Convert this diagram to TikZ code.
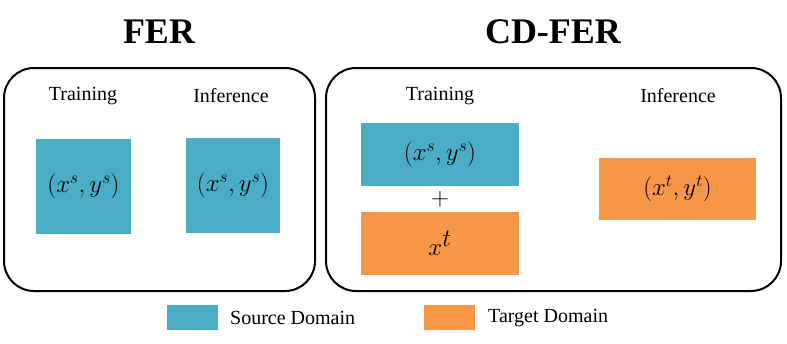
\documentclass[tikz,border=0pt]{standalone}
\usepackage{fontspec}
\setmainfont{Liberation Serif}
\begin{document}
\begin{tikzpicture}[x=1pt,y=-1pt,
  src/.style={fill=srcblue,draw=none,inner sep=0pt},
  tgt/.style={fill=tgtorange,draw=none,inner sep=0pt},
  frame/.style={draw=black,line width=2pt,rounded corners=30pt},
  lbl/.style={font=\fontsize{20}{24}\selectfont},
  ttl/.style={font=\fontsize{36}{40}\selectfont\bfseries},
  mth/.style={font=\fontsize{27}{32}\selectfont}]
\definecolor{srcblue}{HTML}{4BACC6}
\definecolor{tgtorange}{HTML}{F79646}
\useasboundingbox (0,0) rectangle (787,343);
\node[ttl] (t1) at (159,32) {FER};
\node[ttl] (t2) at (553,32) {CD-FER};
\draw[frame] (4,68) rectangle (315,291);
\draw[frame] (326,68) rectangle (781,291);
\node[lbl] (lt) at (83,96) {Training};
\node[lbl] (li) at (231,96) {Inference};
\node[lbl] (rt) at (440,96) {Training};
\node[lbl] (ri) at (678,96) {Inference};
\node[src,minimum width=95pt,minimum height=95pt,mth] (b1) at (83.5,186.5) {$(x^s,y^s)$};
\node[src,minimum width=94pt,minimum height=95pt,mth] (b2) at (233,185.5) {$(x^s,y^s)$};
\node[src,minimum width=158pt,minimum height=63pt,mth] (b3) at (440,154.5) {$(x^s,y^s)$};
\node[font=\fontsize{30}{34}\selectfont] (plus) at (440,199) {$+$};
\node[tgt,minimum width=158pt,minimum height=63pt,font=\fontsize{34}{38}\selectfont] (o1) at (440,243.5) {$x^t$};
\node[tgt,minimum width=157pt,minimum height=62pt,mth] (o2) at (677.5,189) {$(x^t,y^t)$};
\node[src,minimum width=51pt,minimum height=25pt] (ls) at (192.5,317.5) {};
\node[lbl,anchor=west,inner sep=0pt] (lst) at (230,318) {Source Domain};
\node[tgt,minimum width=51pt,minimum height=25pt] (lo) at (449.5,317.5) {};
\node[lbl,anchor=west,inner sep=0pt] (lot) at (488,318) {Target Domain};
\end{tikzpicture}
\end{document}
